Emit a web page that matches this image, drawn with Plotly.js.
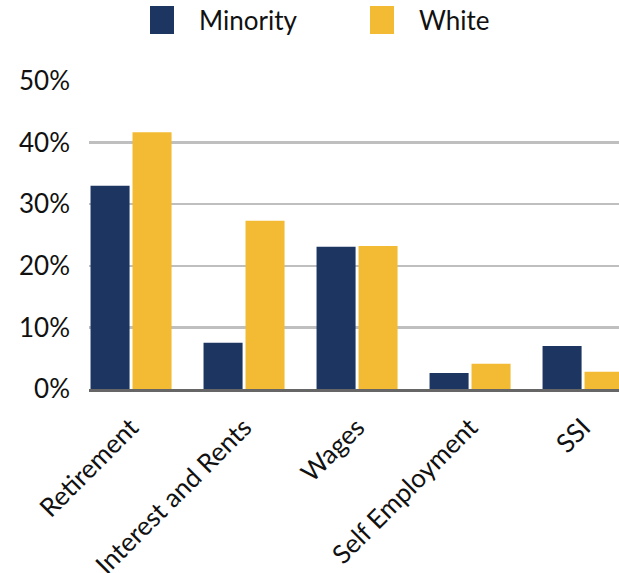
<!DOCTYPE html>
<html>
<head>
<meta charset="utf-8">
<script src="https://cdn.plot.ly/plotly-3.0.1.min.js"></script>
<style>
html,body{margin:0;padding:0;background:#fff;}
#chart{width:619px;height:573px;}
</style>
</head>
<body>
<div id="chart"></div>
<script>
const categories = ["Retirement", "Interest and Rents", "Wages", "Self Employment", "SSI"];
const minority = [33.0, 7.5, 23.1, 2.6, 7.0];
const white = [41.7, 27.3, 23.2, 4.1, 2.8];
const seriesNames = ["Minority", "White"];
const colors = ["#1d3661", "#f3bb33"];
const yTicks = [0, 10, 20, 30, 40, 50];

const font = "Lato, 'Open Sans', sans-serif";

const traces = [
  {type: "bar", name: seriesNames[0], x: categories, y: minority, marker: {color: colors[0]}, hoverinfo: "none"},
  {type: "bar", name: seriesNames[1], x: categories, y: white, marker: {color: colors[1]}, hoverinfo: "none"}
];

// custom legend (paper coords derived from plot area 89..619 x 81..389)
const L = 89, R = 619, T = 81, B = 389;
const px = v => (v - L) / (R - L);
const py = v => (B - v) / (B - T);
const legendItems = [
  {sq: [150, 174], tx: 197},
  {sq: [370, 394], tx: 417}
];
const shapes = [];
const annotations = [];
legendItems.forEach((it, i) => {
  shapes.push({type: "rect", xref: "paper", yref: "paper",
    x0: px(it.sq[0]), x1: px(it.sq[1]), y0: py(34), y1: py(6),
    fillcolor: colors[i], line: {width: 0}});
  annotations.push({xref: "paper", yref: "paper", x: px(it.tx), y: py(20),
    xanchor: "left", yanchor: "middle", showarrow: false,
    text: seriesNames[i], font: {family: font, size: 26, color: "#111"}});
});

const layout = {
  width: 619, height: 573,
  margin: {l: 89, r: 0, t: 81, b: 184},
  paper_bgcolor: "#fff", plot_bgcolor: "#fff",
  showlegend: false,
  barmode: "group",
  bargap: 0.257,
  bargroupgap: 0.07,
  font: {family: font, size: 26, color: "#111"},
  xaxis: {
    range: [-0.372, 4.318],
    tickangle: -45,
    showgrid: false,
    zeroline: false,
    showline: true, linecolor: "#666666", linewidth: 3,
    ticks: "",
    tickfont: {family: font, size: 26, color: "#111"},
    ticklabelstandoff: 10
  },
  yaxis: {
    range: [0, 50],
    tickvals: yTicks,
    ticktext: yTicks.map(v => v + "%"),
    showgrid: true, gridcolor: "#bfbfbf", gridwidth: 2.3,
    zeroline: false,
    showline: false,
    ticks: "",
    tickfont: {family: font, size: 26, color: "#111"},
    ticklabelstandoff: 18,
    automargin: false
  },
  shapes: shapes,
  annotations: annotations
};

Plotly.newPlot("chart", traces, layout, {displayModeBar: false, staticPlot: true});
</script>
</body>
</html>
